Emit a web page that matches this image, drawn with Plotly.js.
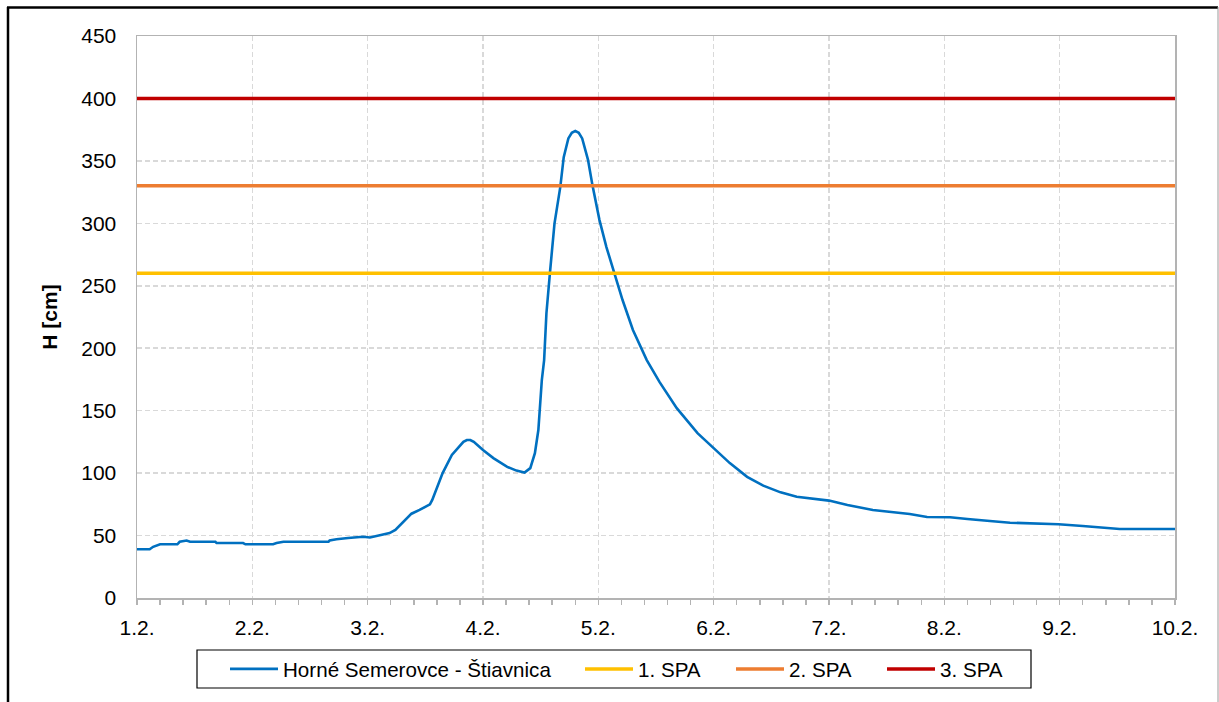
<!DOCTYPE html>
<html>
<head>
<meta charset="utf-8">
<script src="https://cdn.plot.ly/plotly-3.0.1.min.js"></script>
<style>
  html, body { margin: 0; padding: 0; background: #ffffff; }
  #chart { width: 1219px; height: 702px; }
</style>
</head>
<body>
<div id="chart"></div>
<script>
// Time axis: day of February (1 = 1.2. 00:00)
const days = [
  1.00, 1.11, 1.14, 1.20, 1.35, 1.37, 1.43, 1.46, 1.68, 1.69, 1.92, 1.94,
  2.18, 2.21, 2.27, 2.66, 2.67, 2.73, 2.83, 2.96, 3.02, 3.08, 3.13, 3.19,
  3.24, 3.31, 3.38, 3.45, 3.54, 3.56, 3.65, 3.73, 3.80, 3.83, 3.86, 3.89, 3.92, 4.00,
  4.09, 4.21, 4.29, 4.33, 4.36, 4.41, 4.45, 4.48, 4.51, 4.53, 4.55, 4.58, 4.62,
  4.67, 4.70, 4.74, 4.77, 4.80, 4.83, 4.86, 4.91, 4.95, 5.01, 5.07, 5.14, 5.21, 5.30,
  5.42, 5.53, 5.68, 5.86, 6.00, 6.14, 6.29, 6.43, 6.58, 6.72, 7.00, 7.16,
  7.38, 7.56, 7.70, 7.85, 8.05, 8.20, 8.28, 8.42, 8.57, 8.72, 8.99, 9.20,
  9.35, 9.52, 10.00
];
// Water level H [cm] at Horné Semerovce - Štiavnica
const level = [
  39, 39, 41, 43, 43, 45, 46, 45, 45, 44, 44, 43,
  43, 44, 45, 45, 46, 47, 48, 49, 48.5, 49.6, 50.5, 52,
  54.5, 61, 67.5, 70.5, 75, 78.5, 100, 114.5, 122.5, 125, 126.5, 126.5, 125, 118.5,
  112, 105, 102, 100.8, 100.5, 104, 116, 134.5, 174.5, 190.5, 228, 260, 300,
  329, 353, 368, 372.5, 374, 372.5, 368, 351, 330, 302.6, 281, 260, 238.6, 214.6,
  190.5, 173, 152, 132, 120, 108, 97, 90, 84.6, 81, 78, 74.5,
  70.5, 69, 67.3, 64.8, 64.6, 63.2, 62.4, 61.4, 60.3, 59.8, 59, 57.6,
  56.6, 55.2, 55.2
];
// Flood warning levels (stupne povodňovej aktivity)
const spaNames = ["1. SPA", "2. SPA", "3. SPA"];
const spaLevels = [260, 330, 400];
const spaColors = ["#FFC000", "#ED7D31", "#C00000"];
const seriesName = "Horné Semerovce - Štiavnica";
const tickDays = [1, 2, 3, 4, 5, 6, 7, 8, 9, 10];
const tickLabels = ["1.2.", "2.2.", "3.2.", "4.2.", "5.2.", "6.2.", "7.2.", "8.2.", "9.2.", "10.2."];
const xRange = [1, 10];

const W = 1219, H = 702, ML = 137, MR = 44, MT = 36, MB = 104;
const pw = W - ML - MR, ph = H - MT - MB;
const px = v => (v - ML) / pw;
const py = v => (H - MB - v) / ph;

const legendIds = ["legend", "legend2", "legend3", "legend4"];
const legendLeft = [225, 580, 731, 882];

const traces = [{
  x: days, y: level, name: seriesName, type: "scatter", mode: "lines",
  line: { color: "#0070C0", width: 2.6 }, legend: legendIds[0]
}];
spaNames.forEach((n, i) => {
  traces.push({
    x: xRange, y: [spaLevels[i], spaLevels[i]], name: n, type: "scatter", mode: "lines",
    line: { color: spaColors[i], width: 3.5 }, legend: legendIds[i + 1]
  });
});

const font = "Liberation Sans, Arial, sans-serif";
const layout = {
  width: W, height: H,
  margin: { l: ML, r: MR, t: MT, b: MB, pad: 0 },
  paper_bgcolor: "#ffffff", plot_bgcolor: "#ffffff",
  font: { family: font, size: 21, color: "#000000" },
  showlegend: true,
  xaxis: {
    range: xRange, type: "linear",
    tickmode: "array", tickvals: tickDays, ticktext: tickLabels,
    ticks: "outside", ticklen: 5, tickwidth: 1.5, tickcolor: "#b3b3b3",
    ticklabelstandoff: 5,
    minor: { dtick: 0.2, tick0: 1, ticks: "outside", ticklen: 5, tickwidth: 1.5, tickcolor: "#b3b3b3", showgrid: false },
    showgrid: true, gridcolor: "#d9d9d9", gridwidth: 1.5, griddash: "5px,3px",
    showline: true, linecolor: "#b3b3b3", linewidth: 1.5, mirror: true,
    zeroline: false, tickfont: { family: font, size: 21, color: "#000000" }
  },
  yaxis: {
    range: [0, 450], dtick: 50, tick0: 0,
    ticks: "", ticklabelstandoff: 15,
    showgrid: true, gridcolor: "#d9d9d9", gridwidth: 1.5, griddash: "5px,3px",
    showline: true, linecolor: "#b3b3b3", linewidth: 1.5, mirror: true,
    zeroline: false, tickfont: { family: font, size: 21, color: "#000000" },
    title: { text: "<b>H [cm]</b>", font: { family: font, size: 21, color: "#000000" }, standoff: 18 }
  },
  shapes: [
    { type: "line", xref: "paper", yref: "paper", x0: px(8), x1: px(8), y0: py(7), y1: py(710), line: { color: "#000000", width: 2.5 } },
    { type: "line", xref: "paper", yref: "paper", x0: px(7), x1: px(1218), y0: py(7.5), y1: py(7.5), line: { color: "#000000", width: 2.5 } },
    { type: "line", xref: "paper", yref: "paper", x0: px(1218), x1: px(1218), y0: py(7), y1: py(710), line: { color: "#9a9a9a", width: 1 } },
    { type: "rect", xref: "paper", yref: "paper", x0: px(197), x1: px(1031), y0: py(650), y1: py(688), line: { color: "#000000", width: 1.2 }, fillcolor: "rgba(0,0,0,0)" }
  ]
};
legendIds.forEach((id, i) => {
  layout[id] = {
    orientation: "h", x: px(legendLeft[i]), xanchor: "left", y: py(669), yanchor: "middle",
    borderwidth: 0, bgcolor: "rgba(0,0,0,0)",
    font: { family: font, size: 20.6, color: "#000000" },
    itemwidth: 48
  };
});

Plotly.newPlot("chart", traces, layout, { displayModeBar: false, staticPlot: true });
</script>
</body>
</html>
